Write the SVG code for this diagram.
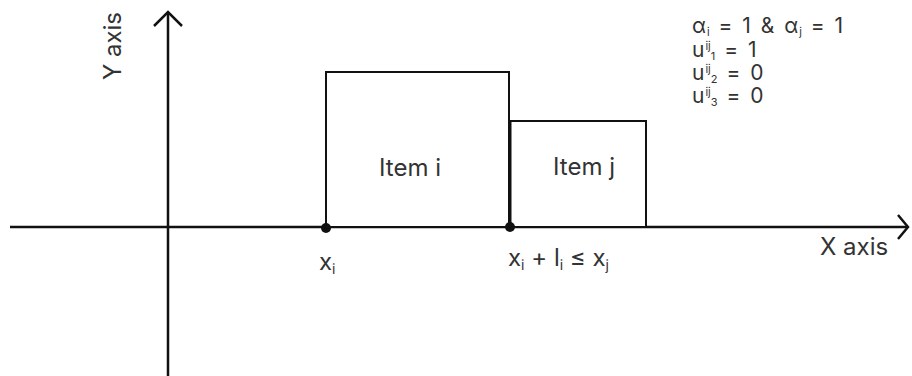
<svg xmlns="http://www.w3.org/2000/svg" width="912" height="376" viewBox="0 0 912 376">
<style>
text{font-family:Inter,"Noto Sans","Liberation Sans",sans-serif;fill:#333;font-size:24px}
.ax{stroke:#111;stroke-width:2.5;fill:none}
.box{fill:#fff;stroke:#111;stroke-width:2}
.s{font-size:14px}
.eq{font-size:21px;letter-spacing:1px;word-spacing:2px}
.eq .s{font-size:11px;letter-spacing:0}
</style>
<rect width="912" height="376" fill="#fff"/>
<g id="connectors">
<line class="ax" x1="10" y1="227" x2="907" y2="227"/>
<polyline class="ax" points="898,215 908,227 898,239"/>
<line class="ax" x1="168" y1="376" x2="168" y2="14"/>
<polyline class="ax" points="154,26 168,12 182,26"/>
</g>
<g id="item-i"><rect class="box" x="326" y="72" width="183" height="155"/><text x="410" y="176" text-anchor="middle">Item i</text></g>
<g id="item-j"><rect class="box" x="510" y="121" width="136" height="106"/><text x="584" y="175" text-anchor="middle">Item j</text></g>
<line x1="510" y1="121" x2="510" y2="227" stroke="#111" stroke-width="3"/>
<g id="dots"><circle cx="326" cy="228" r="5" fill="#111"/><circle cx="510" cy="227" r="5" fill="#111"/></g>
<g id="labels">
<text x="121" y="46" text-anchor="middle" transform="rotate(-90 121 46)">Y axis</text>
<text x="820" y="255">X axis</text>
<text x="319" y="270">x<tspan class="s" dy="4">i</tspan></text>
<text x="508" y="266">x<tspan class="s" dy="4">i</tspan><tspan dy="-4"> + l</tspan><tspan class="s" dy="4">i</tspan><tspan dy="-4"> ≤ x</tspan><tspan class="s" dy="4">j</tspan></text>
<text class="eq" x="692" y="33">α<tspan class="s" dy="3">i</tspan><tspan dy="-3"> = 1 &amp; α</tspan><tspan class="s" dy="3">j</tspan><tspan dy="-3"> = 1</tspan></text>
<text class="eq" x="692" y="57">u<tspan class="s" dy="-7">ij</tspan><tspan class="s" dy="10">1</tspan><tspan dy="-3"> = 1</tspan></text>
<text class="eq" x="692" y="80">u<tspan class="s" dy="-7">ij</tspan><tspan class="s" dy="10">2</tspan><tspan dy="-3"> = 0</tspan></text>
<text class="eq" x="692" y="103">u<tspan class="s" dy="-7">ij</tspan><tspan class="s" dy="10">3</tspan><tspan dy="-3"> = 0</tspan></text>
</g>
</svg>
